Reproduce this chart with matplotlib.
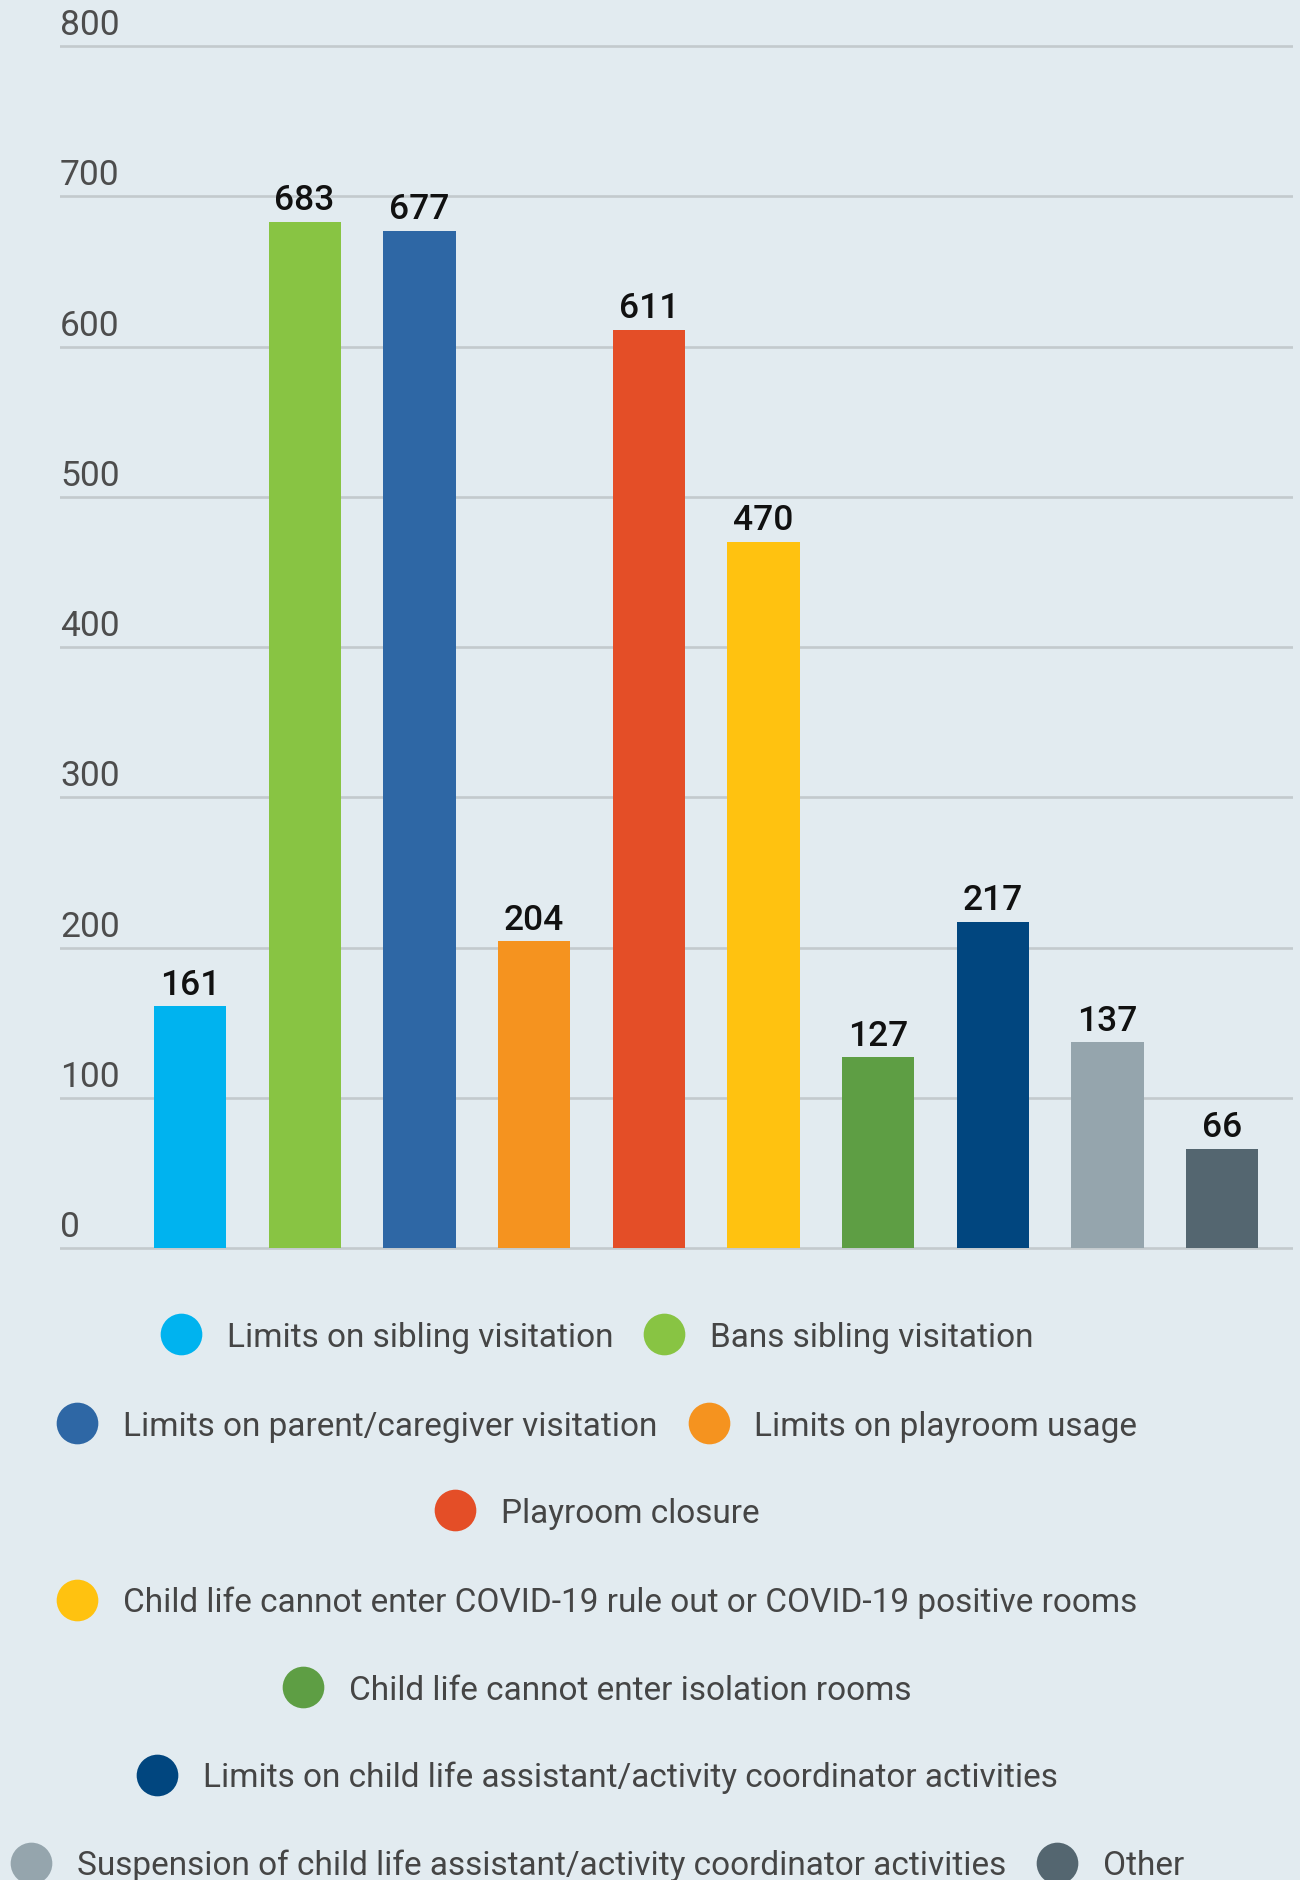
import matplotlib
matplotlib.use("Agg")
import matplotlib.pyplot as plt
from matplotlib.lines import Line2D

plt.rcParams['font.family'] = ['Roboto', 'DejaVu Sans']

categories = [
    "Limits on sibling visitation",
    "Bans sibling visitation",
    "Limits on parent/caregiver visitation",
    "Limits on playroom usage",
    "Playroom closure",
    "Child life cannot enter COVID-19 rule out or COVID-19 positive rooms",
    "Child life cannot enter isolation rooms",
    "Limits on child life assistant/activity coordinator activities",
    "Suspension of child life assistant/activity coordinator activities",
    "Other",
]
values = [161, 683, 677, 204, 611, 470, 127, 217, 137, 66]
colors = ["#00b3ef", "#88c443", "#2e67a5", "#f5931f", "#e44e27",
          "#ffc210", "#5e9e44", "#01467f", "#95a5ad", "#546670"]
yticks = [0, 100, 200, 300, 400, 500, 600, 700, 800]
# legend rows as in the original layout
legend_rows = [[0, 1], [2, 3], [4], [5], [6], [7], [8, 9]]

bg = "#e2ebf0"
W, H = 1300, 1881
fig = plt.figure(figsize=(W / 100, H / 100), dpi=100, facecolor=bg)

# axes placement in pixels
x0, x1 = 60, 1293
ytop, ybot = 47, 1249
pad = 4
ax = fig.add_axes([x0 / W, 1 - (ybot + pad) / H, (x1 - x0) / W, (ybot - ytop + 2 * pad) / H])
ax.set_facecolor(bg)
upp = 800 / (ybot - ytop)
ax.set_ylim(-pad * upp, 800 + pad * upp)
ax.set_xlim(-1.133, 9.616)

for v in yticks:
    ax.axhline(v, color="#c3cacd", lw=1.9, zorder=0)
    ax.annotate(str(v), xy=(0, v), xycoords=ax.get_yaxis_transform(),
                xytext=(0, 8.5), textcoords="offset points",
                ha="left", va="baseline", fontsize=25.5, color="#4d4d4d")

xs = list(range(len(values)))
bars = ax.bar(xs, values, width=0.63, color=colors, zorder=2)
ax.bar_label(bars, padding=4, fontsize=25.5, color="#111111", fontweight="medium")

ax.set_xticks([])
ax.set_yticks([])
for s in ax.spines.values():
    s.set_visible(False)

row_y = [1338, 1427, 1514, 1603, 1691, 1778, 1866]
for row, yy in zip(legend_rows, row_y):
    handles = [Line2D([], [], ls="none", marker="o", markersize=30,
                      markerfacecolor=colors[i], markeredgewidth=0) for i in row]
    labels = [categories[i] for i in row]
    leg = fig.legend(handles, labels, loc="center", bbox_to_anchor=(597 / W, 1 - yy / H),
                     ncol=len(row), frameon=False, fontsize=24,
                     handlelength=1.25, handletextpad=0.75, columnspacing=0.9,
                     borderpad=0, borderaxespad=0)
    for t in leg.get_texts():
        t.set_color("#454545")

fig.savefig("out.png", dpi=100, facecolor=bg)
